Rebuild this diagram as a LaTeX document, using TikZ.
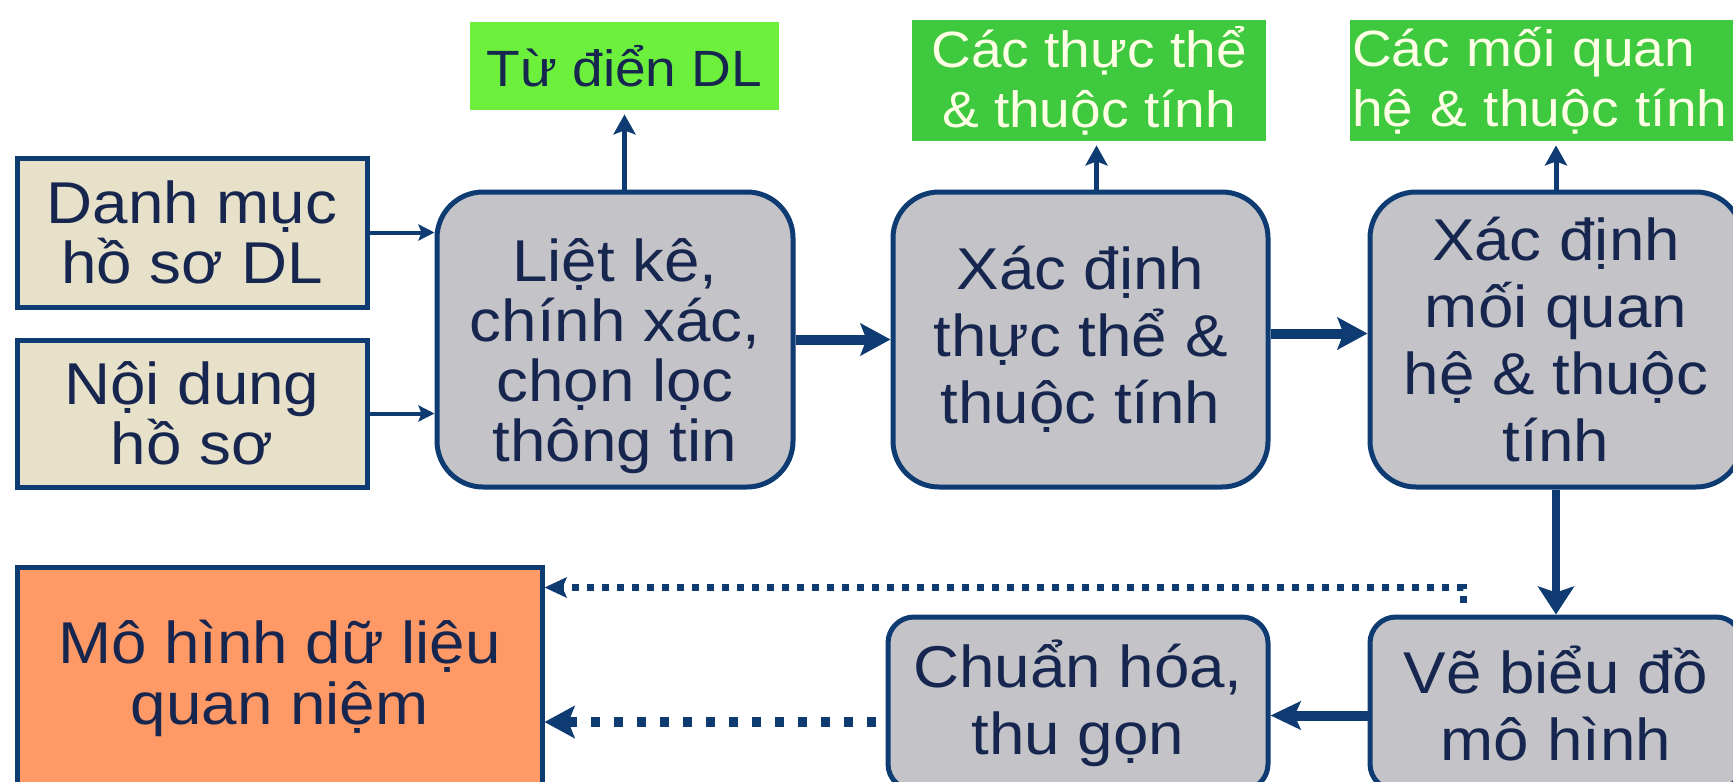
\documentclass[tikz,border=0pt]{standalone}
\usepackage{fontspec}
\setmainfont[FakeStretch=1.08]{Liberation Sans}
\usetikzlibrary{arrows.meta}

\definecolor{navy}{HTML}{0E3B72}
\definecolor{inktext}{HTML}{16264F}
\definecolor{beige}{HTML}{E7E1C9}
\definecolor{greybox}{HTML}{C4C4C8}
\definecolor{lime}{HTML}{6CF03C}
\definecolor{leaf}{HTML}{3EC93E}
\definecolor{salmon}{HTML}{FF9A66}
\definecolor{cream}{HTML}{FFFFE6}

\begin{document}
\begin{tikzpicture}[x=0.5pt,y=-0.5pt,
  basenode/.style={draw=navy, line width=2.5pt, inner sep=0pt, align=center,
    text=inktext, font=\fontsize{29.5}{30}\selectfont},
  srcnode/.style={basenode, fill=beige},
  stepnode/.style={basenode, fill=greybox, rounded corners=23pt},
  widestep/.style={stepnode, font=\fontsize{29.5}{33.5}\selectfont},
  lowstep/.style={basenode, fill=greybox, rounded corners=13pt,
    font=\fontsize{29.5}{33.5}\selectfont},
  resultnode/.style={inner sep=0pt, align=center, font=\fontsize{25.5}{30}\selectfont},
  thinarrow/.style={draw=navy, line width=2pt,
    -{Stealth[length=8pt,width=8pt,inset=1.5pt]}},
  uparrow/.style={draw=navy, line width=2.5pt, shorten >=2pt,
    -{Stealth[length=10pt,width=11pt,inset=2pt]}},
  flowarrow/.style={draw=navy, line width=5pt,
    -{Stealth[length=15pt,width=16pt,inset=3pt]}},
  dotarrow/.style={draw=navy, line width=3.5pt, dash pattern=on 3.5pt off 4pt,
    -{Stealth[length=11pt,width=10pt,inset=2pt]}},
  bigdotarrow/.style={draw=navy, line width=5pt, dash pattern=on 4.5pt off 7pt,
    -{Stealth[length=15pt,width=16pt,inset=3pt]}}
]
\useasboundingbox (0,0) rectangle (1733,781);
\clip (0,0) rectangle (1733,781);
\fill[white] (0,0) rectangle (1733,781);

% sources
\node[srcnode, minimum width=175pt, minimum height=74.5pt] (danh) at (192,232.5)
  {Danh mục\\hồ sơ DL};
\node[srcnode, minimum width=175pt, minimum height=73.5pt] (noi) at (192,413.5)
  {Nội dung\\hồ sơ};

% processing steps, top row
\node[stepnode, minimum width=178pt, minimum height=147.5pt] (liet) at (615,339.5)
  {\rule{0pt}{38pt}Liệt kê,\\chính xác,\\chọn lọc\\thông tin};
\node[widestep, minimum width=187.5pt, minimum height=147.5pt] (tt) at (1080.5,339.5)
  {Xác định\\thực thể \&\\thuộc tính};
\node[widestep, minimum width=186pt, minimum height=147.5pt] (mqh) at (1556,339.5)
  {Xác định\\mối quan\\hệ \& thuộc\\tính};

% results of the steps
\node[resultnode, fill=lime, text=inktext, minimum width=154.5pt, minimum height=44pt]
  (tudien) at (624.5,66) {Từ điển DL};
\node[resultnode, fill=leaf, text=cream, minimum width=177pt, minimum height=60.5pt]
  (gtt) at (1089,80.5) {Các thực thể\\\& thuộc tính};
\node[resultnode, fill=leaf, text=cream, align=left, inner xsep=1pt, text width=203pt,
  minimum height=60.5pt] (gmqh) at (1555,80.5) {Các mối quan\\hệ \& thuộc tính};

% bottom row
\node[basenode, fill=salmon, font=\fontsize{29.5}{30.5}\selectfont,
  minimum width=262.5pt, minimum height=111.5pt] (mohinh) at (279.5,678.5)
  {Mô hình dữ liệu\\quan niệm};
\node[lowstep, minimum width=190pt, minimum height=86.5pt] (chuan) at (1078,703.5)
  {Chuẩn hóa,\\thu gọn};
\node[lowstep, minimum width=186pt, minimum height=86.5pt] (ve) at (1556,703.5)
  {Vẽ biểu đồ\\mô hình};

% inputs
\draw[thinarrow] (danh.east) -- (danh.east -| liet.west);
\draw[thinarrow] (noi.east) -- (noi.east -| liet.west);

% main flow
\draw[flowarrow] (liet.east) -- (tt.west);
\draw[flowarrow] ([yshift=3pt]tt.east) -- ([yshift=3pt]mqh.west);
\draw[flowarrow, line width=4pt, -{Stealth[length=14pt,width=18pt,inset=3pt]}]
  (mqh.south) -- (ve.north);
\draw[flowarrow, -{Stealth[length=15pt,width=14pt,inset=3pt]}]
  ([yshift=-6pt]ve.west) -- ([yshift=-6pt]ve.west -| chuan.east);

% outputs of each step
\draw[uparrow] (tudien.south |- liet.north) -- (tudien.south);
\draw[uparrow] ([xshift=8pt]tt.north) -- ([xshift=8pt]tt.north |- gtt.south);
\draw[uparrow] (mqh.north) -- (mqh.north |- gmqh.south);

% dotted links to the final model
\coordinate (dstart) at (1463,603);
\draw[dotarrow] (dstart) |- ([yshift=-11.5pt]mohinh.north east);
\draw[bigdotarrow, shorten <=5pt]
  ([yshift=-9.25pt]chuan.west) -- ([yshift=-9.25pt]chuan.west -| mohinh.east);
\end{tikzpicture}
\end{document}
